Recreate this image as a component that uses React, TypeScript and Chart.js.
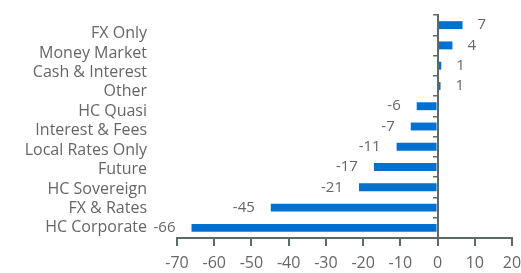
import React, { useEffect, useRef } from "react";
import { Chart, registerables } from "chart.js";

Chart.register(...registerables);

const categories = [
  "FX Only",
  "Money Market",
  "Cash & Interest",
  "Other",
  "HC Quasi",
  "Interest & Fees",
  "Local Rates Only",
  "Future",
  "HC Sovereign",
  "FX & Rates",
  "HC Corporate",
];
const values = [6.7, 4.0, 1.0, 0.8, -5.6, -7.2, -11.0, -17.1, -21.1, -44.8, -66.1];
const xMin = -70;
const xMax = 20;
const xStep = 10;

const BAR_COLOR = "#0071ce";
const AXIS_COLOR = "#5b6a63";
const TEXT_COLOR = "#666666";
const FONT_FAMILY = "'Open Sans', sans-serif";

const valueLabels = {
  id: "valueLabels",
  afterDatasetsDraw(chart: any) {
    const ctx = chart.ctx;
    const meta = chart.getDatasetMeta(0);
    ctx.save();
    ctx.font = `15px ${FONT_FAMILY}`;
    ctx.fillStyle = TEXT_COLOR;
    ctx.textBaseline = "middle";
    meta.data.forEach((bar: any, i: number) => {
      const v = values[i];
      const { x, y } = bar.getProps(["x", "y"], true);
      if (v >= 0) {
        ctx.textAlign = "left";
        ctx.fillText(String(Math.round(v)), x + 15, y);
      } else {
        ctx.textAlign = "right";
        ctx.fillText(String(Math.round(v)), x - 16, y);
      }
    });
    ctx.restore();
  },
};

export default function App() {
  const ref = useRef<HTMLCanvasElement | null>(null);

  useEffect(() => {
    if (!ref.current) return;
    const chart = new Chart(ref.current, {
      type: "bar",
      data: {
        labels: categories,
        datasets: [
          {
            data: values,
            backgroundColor: BAR_COLOR,
            borderWidth: 0,
            barPercentage: 0.39,
            categoryPercentage: 1,
            yAxisID: "y",
            xAxisID: "x",
          },
        ],
      },
      options: {
        indexAxis: "y",
        animation: false,
        responsive: true,
        maintainAspectRatio: false,
        layout: { padding: { left: 0, right: 9, top: 15, bottom: 0 } },
        plugins: {
          legend: { display: false },
          tooltip: { enabled: false },
          title: { display: false },
        },
        scales: {
          x: {
            type: "linear",
            position: "bottom",
            min: xMin,
            max: xMax,
            grid: {
              drawOnChartArea: false,
              drawTicks: true,
              tickLength: 8,
              color: AXIS_COLOR,
              lineWidth: 2,
            },
            border: { display: true, color: AXIS_COLOR, width: 2 },
            ticks: {
              stepSize: xStep,
              color: TEXT_COLOR,
              font: { family: FONT_FAMILY, size: 16 },
              padding: 8,
              maxRotation: 0,
            },
            afterFit: (scale: any) => {
              scale.height = 35;
              scale.paddingLeft = 0;
              scale.paddingRight = 0;
            },
          },
          y: {
            type: "category",
            labels: categories,
            position: { x: 0 },
            offset: true,
            grid: {
              offset: true,
              drawOnChartArea: false,
              drawTicks: true,
              tickLength: 4,
              color: AXIS_COLOR,
              lineWidth: 1.5,
            },
            border: { display: true, color: AXIS_COLOR, width: 2, z: 1 },
            ticks: { display: false },
          },
          yl: {
            type: "linear",
            position: "left",
            reverse: true,
            offset: false,
            bounds: "data",
            min: -0.962,
            max: 10.523,
            grid: { display: false, drawTicks: false, offset: false },
            border: { display: false },
            afterBuildTicks: (scale: any) => {
              scale.ticks = categories.map((_, i) => ({ value: i }));
            },
            ticks: {
              autoSkip: false,
              color: TEXT_COLOR,
              font: { family: FONT_FAMILY, size: 16 },
              padding: 30,
              callback: (v: any) => categories[Math.round(Number(v))],
            },
            afterFit: (scale: any) => {
              scale.width = 177;
              scale.paddingTop = 0;
              scale.paddingBottom = 0;
            },
          },
        },
      },
      plugins: [valueLabels],
    });
    return () => chart.destroy();
  }, []);

  return (
    <div style={{ position: "absolute", left: 0, top: 0, width: 521, height: 273 }}>
      <canvas ref={ref} />
    </div>
  );
}
